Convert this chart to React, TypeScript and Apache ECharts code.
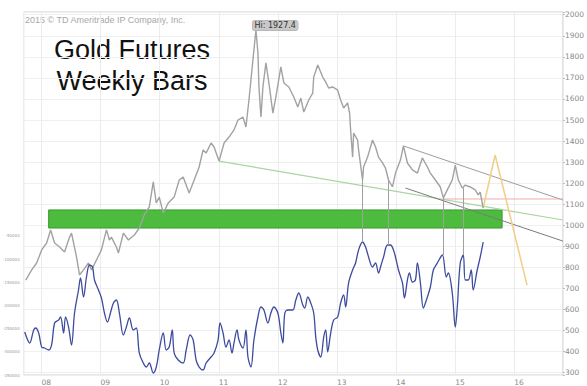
import React, { useEffect, useRef } from 'react';
import * as echarts from 'echarts';

// Weekly gold futures (approximate closes), x in fractional years
const priceT = [
  2007.734, 2007.835, 2007.919, 2008.004, 2008.088, 2008.155, 2008.223, 2008.307, 2008.391, 2008.476,
  2008.509, 2008.594, 2008.644, 2008.712, 2008.796, 2008.847, 2008.931, 2009.015, 2009.100, 2009.150,
  2009.184, 2009.268, 2009.302, 2009.386, 2009.471, 2009.572, 2009.656, 2009.740, 2009.825, 2009.892,
  2009.943, 2009.993, 2010.061, 2010.145, 2010.246, 2010.331, 2010.398, 2010.499, 2010.584, 2010.668,
  2010.735, 2010.786, 2010.870, 2010.921, 2011.005, 2011.090, 2011.174, 2011.258, 2011.326, 2011.410,
  2011.460, 2011.511, 2011.578, 2011.629, 2011.663, 2011.680, 2011.714, 2011.747, 2011.798, 2011.848,
  2011.916, 2011.966, 2012.051, 2012.101, 2012.186, 2012.270, 2012.337, 2012.388, 2012.439, 2012.523,
  2012.590, 2012.607, 2012.675, 2012.759, 2012.810, 2012.860, 2012.928, 2013.012, 2013.062, 2013.113,
  2013.180, 2013.214, 2013.231, 2013.265, 2013.282, 2013.349, 2013.366, 2013.433, 2013.450, 2013.518,
  2013.602, 2013.653, 2013.703, 2013.771, 2013.821, 2013.872, 2013.939, 2013.990, 2014.074, 2014.125,
  2014.192, 2014.277, 2014.361, 2014.445, 2014.530, 2014.580, 2014.665, 2014.749, 2014.800, 2014.867,
  2014.951, 2015.002, 2015.053, 2015.120, 2015.171, 2015.255, 2015.339, 2015.390, 2015.424, 2015.474,
];
const priceV = [
  740, 788, 821, 883, 916, 978, 916, 897, 873, 944,
  963, 849, 764, 788, 821, 788, 835, 883, 978, 930,
  944, 897, 868, 963, 930, 954, 987, 1049, 1087, 1206,
  1106, 1134, 1058, 1106, 1134, 1215, 1229, 1153, 1215, 1277,
  1358, 1343, 1391, 1372, 1305, 1391, 1419, 1453, 1500, 1514,
  1467, 1595, 1785, 1927.4, 1818, 1657, 1514, 1657, 1771, 1676,
  1533, 1609, 1752, 1676, 1657, 1609, 1562, 1604, 1538, 1595,
  1628, 1704, 1761, 1704, 1680, 1652, 1657, 1642, 1595, 1557,
  1581, 1533, 1453, 1324, 1438, 1405, 1358, 1215, 1277, 1324,
  1405, 1372, 1324, 1296, 1272, 1215, 1182, 1248, 1310, 1377,
  1296, 1263, 1248, 1320, 1277, 1248, 1215, 1182, 1130, 1168,
  1215, 1286, 1215, 1177, 1191, 1182, 1168, 1144, 1158, 1082,
];

// Lower panel indicator (blue line)
const cotT = [
  2007.717, 2007.767, 2007.801, 2007.869, 2007.902, 2007.953, 2008.004, 2008.054, 2008.122, 2008.172,
  2008.223, 2008.290, 2008.324, 2008.375, 2008.408, 2008.459, 2008.509, 2008.560, 2008.627, 2008.661,
  2008.712, 2008.762, 2008.813, 2008.864, 2008.897, 2008.965, 2009.015, 2009.066, 2009.117, 2009.167,
  2009.218, 2009.268, 2009.319, 2009.386, 2009.437, 2009.488, 2009.555, 2009.606, 2009.656, 2009.724,
  2009.774, 2009.825, 2009.892, 2009.943, 2009.993, 2010.061, 2010.111, 2010.162, 2010.213, 2010.246,
  2010.314, 2010.398, 2010.449, 2010.516, 2010.567, 2010.617, 2010.668, 2010.735, 2010.786, 2010.870,
  2010.921, 2010.988, 2011.022, 2011.073, 2011.123, 2011.174, 2011.224, 2011.258, 2011.309, 2011.342,
  2011.410, 2011.460, 2011.494, 2011.545, 2011.595, 2011.663, 2011.714, 2011.764, 2011.832, 2011.882,
  2011.933, 2012.000, 2012.051, 2012.084, 2012.118, 2012.169, 2012.253, 2012.304, 2012.354, 2012.422,
  2012.455, 2012.506, 2012.557, 2012.607, 2012.641, 2012.675, 2012.725, 2012.776, 2012.810, 2012.843,
  2012.894, 2012.944, 2013.012, 2013.062, 2013.113, 2013.147, 2013.197, 2013.265, 2013.315, 2013.366,
  2013.433, 2013.484, 2013.535, 2013.602, 2013.653, 2013.703, 2013.737, 2013.788, 2013.855, 2013.906,
  2013.956, 2013.990, 2014.041, 2014.108, 2014.142, 2014.192, 2014.226, 2014.277, 2014.327, 2014.361,
  2014.412, 2014.462, 2014.513, 2014.580, 2014.631, 2014.698, 2014.783, 2014.850, 2014.884, 2014.951,
  2015.002, 2015.036, 2015.086, 2015.137, 2015.171, 2015.221, 2015.272, 2015.305, 2015.373, 2015.424,
  2015.474,
];
const cotV = [
  -257300, -274600, -281000, -253000, -248700, -259500, -289700, -291800, -296100, -285300,
  -237900, -231500, -225000, -259500, -225000, -246600, -285300, -216400, -166800, -140900,
  -181900, -138800, -112900, -117200, -145300, -166800, -184000, -216400, -235800, -216400,
  -194800, -188400, -216400, -263800, -246600, -227200, -253000, -248700, -302600, -324100,
  -332800, -324100, -345700, -332800, -296100, -259500, -296100, -289700, -253000, -302600,
  -317700, -324100, -296100, -263800, -274600, -317700, -332800, -339200, -324100, -311200,
  -302600, -274600, -237900, -259500, -289700, -274600, -302600, -281000, -253000, -274600,
  -291800, -253000, -311200, -332800, -274600, -225000, -203400, -209900, -237900, -216400,
  -203400, -216400, -259500, -281000, -216400, -209900, -209900, -188400, -173300, -199100,
  -205600, -181900, -194800, -216400, -268100, -296100, -311200, -268100, -253000, -300400,
  -259500, -231500, -225000, -194800, -177600, -203400, -151700, -123700, -108600, -80600,
  -63400, -74100, -95700, -117200, -108600, -130200, -117200, -95700, -69800, -69800,
  -80600, -95700, -123700, -151700, -184000, -145300, -130200, -149600, -145300, -108600,
  -151700, -205600, -188400, -160300, -123700, -108600, -91400, -138800, -130200, -173300,
  -246600, -203400, -108600, -91400, -145300, -145300, -123700, -166800, -123700, -95700,
  -63400,
];

// Support zone (green box)
const zoneT = [2008.122, 2015.794];
const zoneP = [987, 1073];

// Drawn trend lines: [t, price] end points
const greenTrendT = [2011.005, 2016.823];
const greenTrendP = [1305, 1025];
const upperChannelT = [2014.125, 2016.823];
const upperChannelP = [1377, 1120];
const lowerChannelT = [2014.158, 2016.823];
const lowerChannelP = [1177, 925];
const supportLineT = [2014.8, 2016.823];
const supportLineP = [1125, 1125];
const projectionT = [2015.474, 2015.676, 2016.216];
const projectionP = [1082, 1334, 716];

// Vertical connectors between price lows and indicator peaks
const connectorT = [2013.433, 2013.872, 2014.8, 2015.13];
const connectorTop = [1215, 1215, 1130, 1177];
const connectorBottom = [921, 906, 859, 859];

const peakIndex = priceV.indexOf(Math.max(...priceV));
const peakValue = priceV[peakIndex];

const zip = (a: number[], b: number[]) => a.map((v, i) => [v, b[i]]);
const isInt = (v: number) => Math.abs(v - Math.round(v)) < 1e-6;

function trend(name: string, t: number[], p: number[], color: string, width: number) {
  return {
    name,
    type: 'line',
    yAxisIndex: 0,
    data: zip(t, p),
    symbol: 'none',
    silent: true,
    z: 2,
    lineStyle: { color, width },
  };
}

export default function App() {
  const ref = useRef<HTMLDivElement>(null);
  useEffect(() => {
    if (!ref.current) return;
    const chart = echarts.init(ref.current, undefined, { renderer: 'svg' });
    const axisFont = 'DejaVu Sans';
    chart.setOption({
      animation: false,
      backgroundColor: '#ffffff',
      grid: { left: 22, right: 24, top: 12, bottom: 11, show: true, borderColor: '#cccccc', borderWidth: 1 },
      xAxis: {
        type: 'value',
        min: 2007.7,
        max: 2016.823,
        minInterval: 1,
        maxInterval: 1,
        axisLine: { show: false },
        axisTick: { show: false },
        axisLabel: {
          align: 'left',
          margin: 3,
          fontSize: 7.5,
          fontFamily: axisFont,
          color: '#8a8a8a',
          formatter: (v: number) => (isInt(v) ? String(Math.round(v)).slice(2) : ''),
        },
        splitLine: { show: true, lineStyle: { color: '#ececec', width: 1 } },
      },
      yAxis: [
        {
          type: 'value',
          position: 'right',
          min: 289,
          max: 2013,
          minInterval: 100,
          maxInterval: 100,
          axisLine: { show: false },
          axisTick: { show: true, length: 2, lineStyle: { color: '#bbbbbb' } },
          axisLabel: {
            margin: 2,
            fontSize: 7.5,
            fontFamily: axisFont,
            color: '#8a8a8a',
            formatter: (v: number) => (Math.round(v) % 100 === 0 ? String(Math.round(v)) : ''),
          },
          splitLine: { show: true, lineStyle: { color: '#efefef', width: 1 } },
        },
        {
          type: 'value',
          position: 'left',
          min: -350000,
          max: 432328,
          minInterval: 50000,
          maxInterval: 50000,
          axisLine: { show: false },
          axisTick: { show: false },
          splitLine: { show: false },
          axisLabel: {
            margin: 4,
            fontSize: 4,
            fontFamily: axisFont,
            color: '#9a9a9a',
            formatter: (v: number) =>
              v <= -50000 && Math.round(v) % 50000 === 0 ? String(Math.round(v)) : '',
          },
        },
      ],
      graphic: [
        {
          type: 'text',
          x: 25,
          y: 15.5,
          style: {
            text: '2015 \u00a9 TD Ameritrade IP Company, Inc.',
            fontSize: 9,
            fontFamily: 'Liberation Sans',
            fill: '#a8a8a8',
            stroke: 'none',
            lineWidth: 0,
          },
        },
        {
          type: 'text',
          x: 132,
          y: 34,
          style: {
            text: 'Gold Futures\nWeekly Bars',
            fontSize: 27,
            fontFamily: 'Liberation Sans',
            fill: '#111111',
            stroke: 'none',
            lineWidth: 0,
            align: 'center',
            lineHeight: 31,
          },
        },
      ],
      series: [
        {
          name: 'Support zone',
          type: 'line',
          yAxisIndex: 0,
          data: [],
          z: 1,
          silent: true,
          markArea: {
            silent: true,
            itemStyle: { color: '#4cbb3e', borderColor: '#3a9a2f', borderWidth: 1, opacity: 1 },
            data: [[{ coord: [zoneT[0], zoneP[1]] }, { coord: [zoneT[1], zoneP[0]] }]],
          },
        },
        trend('Green trend', greenTrendT, greenTrendP, '#a9d6a0', 1.2),
        trend('Upper channel', upperChannelT, upperChannelP, '#9c9c9c', 1),
        trend('Lower channel', lowerChannelT, lowerChannelP, '#7c7c7c', 1),
        trend('Support', supportLineT, supportLineP, '#f0aaaa', 1),
        trend('Projection', projectionT, projectionP, '#f3cf8e', 1.6),
        {
          name: 'Gold',
          type: 'line',
          yAxisIndex: 0,
          data: zip(priceT, priceV),
          symbol: 'none',
          z: 3,
          lineStyle: { color: '#a2a2a2', width: 1.4 },
          markLine: {
            silent: true,
            symbol: 'none',
            label: { show: false },
            lineStyle: { color: '#a0a0a0', width: 1, type: 'solid' },
            data: connectorT.map((t, i) => [
              { coord: [t, connectorTop[i]] },
              { coord: [t, connectorBottom[i]] },
            ]),
          },
          markPoint: {
            symbol: 'rect',
            symbolSize: 1,
            itemStyle: { color: 'rgba(0,0,0,0)' },
            data: [
              {
                coord: [priceT[peakIndex], peakValue],
                label: {
                  show: true,
                  formatter: `Hi: ${peakValue}`,
                  position: [-3, -9],
                  fontSize: 8,
                  fontFamily: axisFont,
                  color: '#333333',
                  backgroundColor: '#c8c8c8',
                  borderColor: '#a8a8a8',
                  borderWidth: 0.5,
                  borderRadius: 2,
                  padding: [1, 2],
                },
              },
            ],
          },
        },
        {
          name: 'Indicator',
          type: 'line',
          yAxisIndex: 1,
          data: zip(cotT, cotV),
          symbol: 'none',
          smooth: 0.35,
          z: 3,
          lineStyle: { color: '#3d4b9e', width: 1.3 },
        },
      ],
    });
    return () => chart.dispose();
  }, []);
  return (
    <div
      ref={ref}
      style={{ position: 'fixed', left: 0, top: 0, width: 587, height: 386, background: '#fff' }}
    />
  );
}
